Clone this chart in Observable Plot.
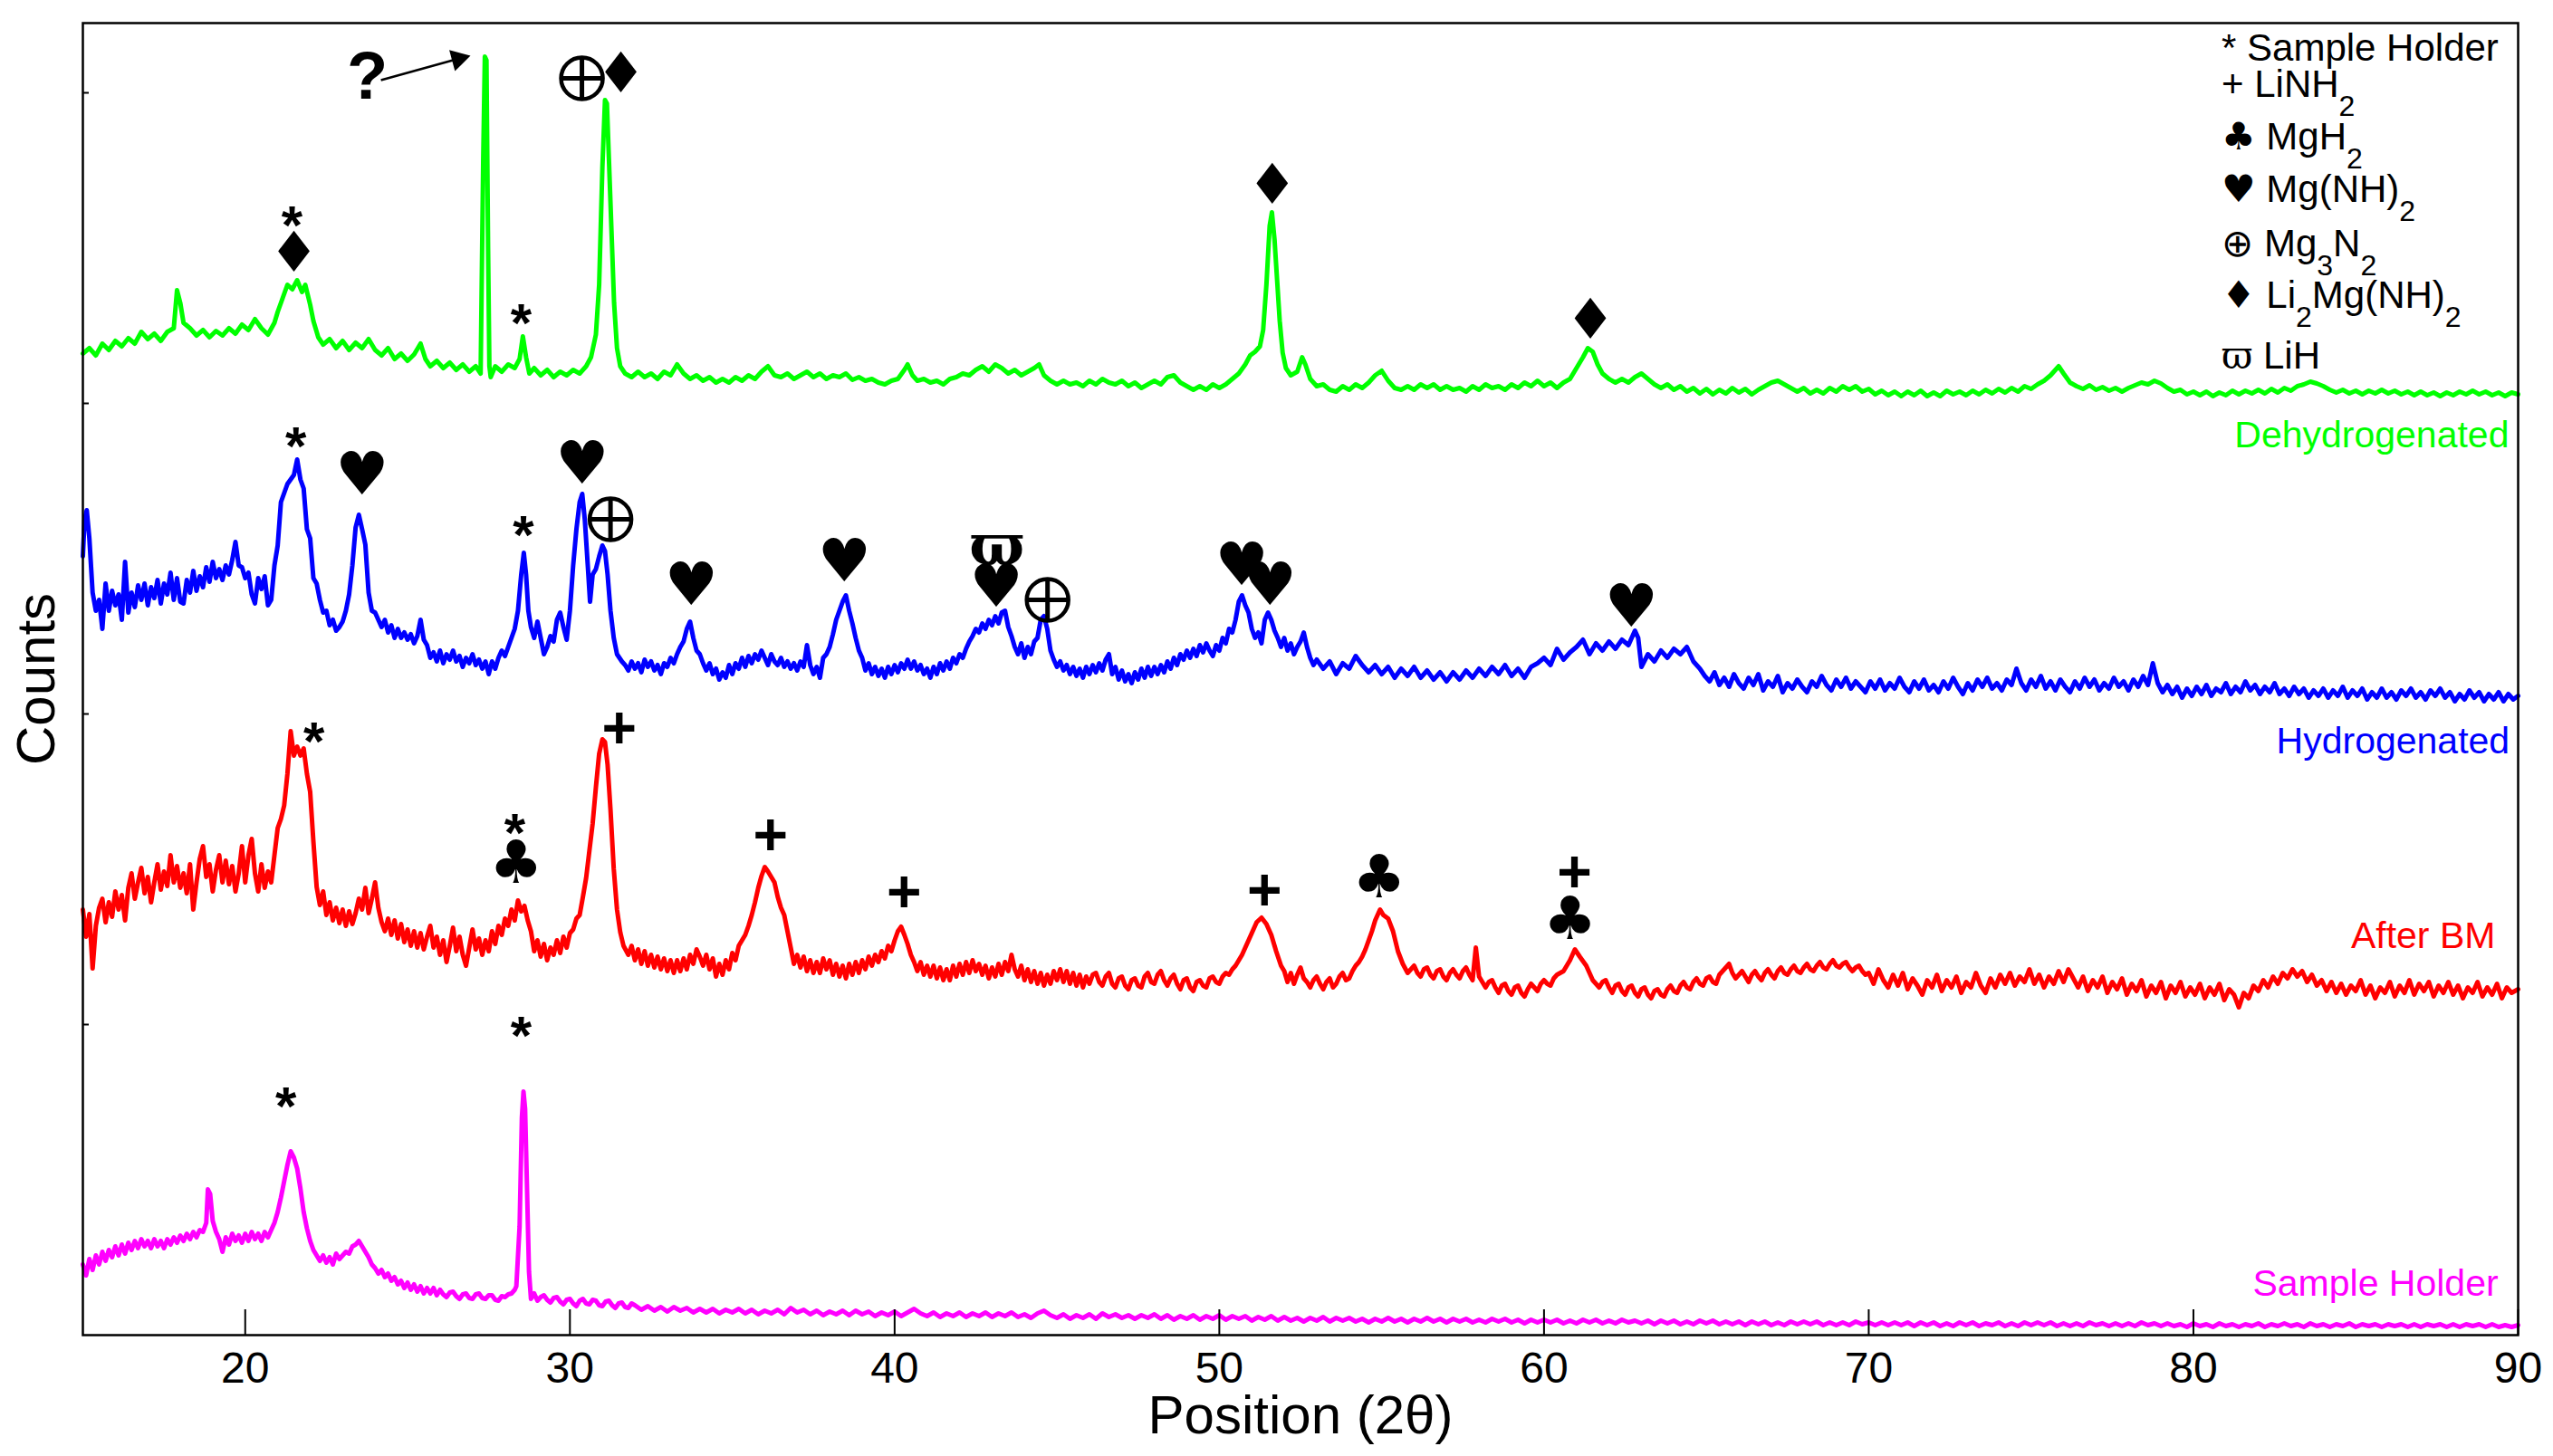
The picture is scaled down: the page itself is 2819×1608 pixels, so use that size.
<!DOCTYPE html>
<html><head><meta charset="utf-8">
<script src="https://cdn.jsdelivr.net/npm/d3@7"></script>
<script src="https://cdn.jsdelivr.net/npm/@observablehq/plot@0.6"></script>
<style>html,body{margin:0;padding:0;background:#fff}svg{display:block}</style>
</head><body><div id="chart"></div>
<script>
// ---- data: [2θ (deg), counts (a.u., stacked)] ----
const dehydrogenated = [[15.0,1084],[15.2,1090],[15.4,1082],[15.6,1095],[15.8,1088],[16.0,1098],[16.2,1092],[16.4,1101],[16.6,1095],[16.8,1108],[17.0,1100],[17.2,1106],[17.4,1098],[17.6,1108],[17.8,1112],[17.9,1154],[18.0,1140],[18.1,1118],[18.3,1112],[18.5,1104],[18.7,1110],[18.9,1102],[19.1,1109],[19.3,1104],[19.5,1112],[19.7,1106],[19.9,1116],[20.1,1110],[20.3,1122],[20.5,1112],[20.7,1105],[20.9,1118],[21.0,1130],[21.15,1145],[21.3,1160],[21.45,1155],[21.6,1165],[21.75,1152],[21.85,1160],[22.0,1138],[22.1,1120],[22.25,1102],[22.4,1094],[22.6,1100],[22.8,1090],[23.0,1098],[23.2,1088],[23.4,1096],[23.6,1090],[23.8,1100],[24.0,1088],[24.2,1082],[24.4,1090],[24.6,1078],[24.8,1084],[25.0,1076],[25.2,1083],[25.4,1095],[25.55,1078],[25.7,1070],[25.9,1076],[26.1,1068],[26.3,1074],[26.5,1066],[26.7,1072],[26.9,1064],[27.1,1070],[27.25,1062],[27.33,1300],[27.38,1412],[27.43,1408],[27.48,1200],[27.52,1070],[27.56,1058],[27.7,1070],[27.9,1064],[28.1,1072],[28.3,1068],[28.45,1078],[28.55,1103],[28.65,1080],[28.75,1062],[28.9,1068],[29.1,1060],[29.3,1066],[29.5,1058],[29.7,1064],[29.9,1060],[30.1,1066],[30.3,1062],[30.5,1070],[30.65,1080],[30.8,1105],[30.9,1160],[31.0,1290],[31.08,1364],[31.14,1360],[31.2,1300],[31.28,1220],[31.36,1140],[31.45,1090],[31.55,1070],[31.7,1062],[31.9,1058],[32.1,1064],[32.3,1058],[32.5,1062],[32.7,1056],[32.9,1064],[33.1,1060],[33.3,1072],[33.5,1062],[33.7,1056],[33.9,1060],[34.1,1054],[34.3,1058],[34.5,1052],[34.7,1056],[34.9,1052],[35.1,1058],[35.3,1054],[35.5,1060],[35.7,1056],[35.9,1064],[36.1,1070],[36.3,1060],[36.5,1058],[36.7,1062],[36.9,1056],[37.1,1060],[37.3,1064],[37.5,1058],[37.7,1062],[37.9,1056],[38.1,1060],[38.3,1058],[38.5,1062],[38.7,1055],[38.9,1058],[39.1,1054],[39.3,1056],[39.5,1052],[39.7,1050],[39.9,1054],[40.1,1056],[40.3,1066],[40.4,1072],[40.55,1060],[40.7,1054],[40.9,1056],[41.1,1052],[41.3,1054],[41.5,1050],[41.7,1056],[41.9,1058],[42.1,1062],[42.3,1060],[42.5,1066],[42.7,1070],[42.9,1064],[43.1,1072],[43.3,1068],[43.5,1062],[43.7,1066],[43.9,1060],[44.1,1064],[44.3,1068],[44.45,1072],[44.6,1060],[44.8,1054],[45.0,1050],[45.2,1054],[45.4,1050],[45.6,1052],[45.8,1048],[46.0,1054],[46.2,1050],[46.4,1056],[46.6,1052],[46.8,1050],[47.0,1054],[47.2,1048],[47.4,1052],[47.6,1046],[47.8,1050],[48.0,1054],[48.2,1050],[48.4,1058],[48.6,1060],[48.8,1052],[49.0,1048],[49.2,1044],[49.4,1048],[49.6,1044],[49.8,1050],[50.0,1046],[50.2,1050],[50.4,1056],[50.6,1062],[50.8,1072],[50.95,1082],[51.1,1086],[51.25,1092],[51.35,1110],[51.45,1160],[51.55,1225],[51.62,1240],[51.7,1210],[51.78,1165],[51.86,1120],[51.95,1085],[52.05,1068],[52.2,1060],[52.4,1064],[52.55,1080],[52.65,1072],[52.8,1056],[53.0,1048],[53.2,1050],[53.4,1044],[53.6,1042],[53.8,1048],[54.0,1044],[54.2,1050],[54.4,1046],[54.6,1052],[54.8,1060],[55.0,1065],[55.2,1054],[55.4,1046],[55.6,1044],[55.8,1048],[56.0,1044],[56.2,1050],[56.4,1046],[56.6,1050],[56.8,1044],[57.0,1048],[57.2,1044],[57.4,1046],[57.6,1042],[57.8,1048],[58.0,1044],[58.2,1050],[58.4,1046],[58.6,1048],[58.8,1044],[59.0,1050],[59.2,1046],[59.4,1052],[59.6,1048],[59.8,1054],[60.0,1048],[60.2,1052],[60.4,1046],[60.6,1052],[60.8,1056],[61.0,1068],[61.2,1080],[61.35,1090],[61.5,1086],[61.65,1072],[61.8,1062],[62.0,1056],[62.2,1052],[62.4,1056],[62.6,1052],[62.8,1058],[63.0,1062],[63.2,1056],[63.4,1050],[63.6,1046],[63.8,1050],[64.0,1044],[64.2,1048],[64.4,1042],[64.6,1046],[64.8,1040],[65.0,1045],[65.2,1039],[65.4,1044],[65.6,1040],[65.8,1046],[66.0,1041],[66.2,1045],[66.4,1039],[66.6,1044],[66.8,1048],[67.0,1052],[67.2,1054],[67.4,1050],[67.6,1046],[67.8,1042],[68.0,1046],[68.2,1040],[68.4,1044],[68.6,1040],[68.8,1046],[69.0,1042],[69.2,1048],[69.4,1044],[69.6,1048],[69.8,1042],[70.0,1045],[70.2,1039],[70.4,1043],[70.6,1038],[70.8,1042],[71.0,1037],[71.2,1042],[71.4,1038],[71.6,1043],[71.8,1037],[72.0,1041],[72.2,1037],[72.4,1043],[72.6,1039],[72.8,1042],[73.0,1038],[73.2,1043],[73.4,1039],[73.6,1044],[73.8,1040],[74.0,1045],[74.2,1041],[74.4,1046],[74.6,1042],[74.8,1048],[75.0,1045],[75.2,1050],[75.4,1054],[75.6,1060],[75.75,1066],[75.85,1070],[76.0,1062],[76.2,1052],[76.4,1048],[76.6,1045],[76.8,1049],[77.0,1044],[77.2,1047],[77.4,1043],[77.6,1046],[77.8,1042],[78.0,1046],[78.2,1049],[78.4,1052],[78.6,1050],[78.8,1054],[79.0,1051],[79.2,1046],[79.4,1042],[79.6,1044],[79.8,1039],[80.0,1042],[80.2,1038],[80.4,1042],[80.6,1037],[80.8,1041],[81.0,1038],[81.2,1043],[81.4,1039],[81.6,1043],[81.8,1040],[82.0,1044],[82.2,1040],[82.4,1045],[82.6,1041],[82.8,1046],[83.0,1043],[83.2,1048],[83.4,1050],[83.6,1053],[83.8,1051],[84.0,1048],[84.2,1044],[84.4,1041],[84.6,1044],[84.8,1040],[85.0,1043],[85.2,1039],[85.4,1043],[85.6,1040],[85.8,1044],[86.0,1040],[86.2,1043],[86.4,1039],[86.6,1042],[86.8,1038],[87.0,1042],[87.2,1038],[87.4,1041],[87.6,1037],[87.8,1041],[88.0,1038],[88.2,1042],[88.4,1039],[88.6,1043],[88.8,1039],[89.0,1042],[89.2,1038],[89.4,1041],[89.6,1037],[89.8,1041],[90.0,1039]];

const hydrogenated = [[15.0,860],[15.05,900],[15.12,911],[15.2,880],[15.3,820],[15.4,800],[15.5,812],[15.6,780],[15.7,830],[15.8,800],[15.9,822],[16.0,806],[16.1,818],[16.2,790],[16.3,854],[16.4,798],[16.5,820],[16.6,804],[16.7,828],[16.8,812],[16.9,830],[17.0,806],[17.1,826],[17.2,814],[17.3,834],[17.4,808],[17.5,830],[17.6,818],[17.7,842],[17.8,812],[17.9,836],[18.0,810],[18.1,808],[18.2,834],[18.3,820],[18.4,844],[18.5,822],[18.6,838],[18.7,826],[18.8,848],[18.9,832],[19.0,854],[19.1,836],[19.2,846],[19.3,834],[19.4,850],[19.5,840],[19.6,856],[19.7,876],[19.8,850],[19.9,848],[20.0,836],[20.1,842],[20.2,818],[20.3,808],[20.4,836],[20.5,824],[20.6,838],[20.7,806],[20.8,812],[20.9,850],[21.0,872],[21.1,920],[21.2,930],[21.3,940],[21.4,945],[21.5,950],[21.6,967],[21.7,945],[21.8,935],[21.9,890],[22.0,880],[22.1,836],[22.2,830],[22.3,812],[22.4,798],[22.5,800],[22.6,784],[22.7,790],[22.8,778],[22.9,782],[23.0,788],[23.1,800],[23.2,818],[23.3,850],[23.4,892],[23.5,906],[23.6,890],[23.7,873],[23.8,820],[23.9,800],[24.0,798],[24.1,790],[24.2,782],[24.3,790],[24.4,776],[24.5,784],[24.6,770],[24.7,780],[24.8,770],[24.9,776],[25.0,768],[25.1,774],[25.2,764],[25.3,772],[25.4,790],[25.5,768],[25.6,762],[25.7,748],[25.8,754],[25.9,744],[26.0,756],[26.1,742],[26.2,752],[26.3,746],[26.4,756],[26.5,744],[26.6,750],[26.7,738],[26.8,748],[26.9,742],[27.0,752],[27.1,740],[27.2,746],[27.3,736],[27.4,744],[27.5,730],[27.6,744],[27.7,736],[27.8,748],[27.9,756],[28.0,750],[28.1,760],[28.2,770],[28.3,780],[28.4,800],[28.5,840],[28.58,864],[28.65,840],[28.72,800],[28.8,782],[28.9,770],[29.0,788],[29.1,770],[29.2,752],[29.3,760],[29.4,772],[29.5,766],[29.6,790],[29.7,798],[29.8,782],[29.9,768],[30.0,800],[30.1,850],[30.2,890],[30.3,920],[30.38,929],[30.46,900],[30.55,850],[30.62,810],[30.7,840],[30.8,846],[30.9,860],[31.0,872],[31.08,866],[31.16,840],[31.25,800],[31.35,770],[31.45,752],[31.6,744],[31.7,740],[31.8,734],[31.9,744],[32.0,736],[32.1,742],[32.2,732],[32.3,746],[32.4,738],[32.5,744],[32.6,734],[32.7,740],[32.8,730],[32.9,742],[33.0,738],[33.1,748],[33.2,742],[33.3,752],[33.4,760],[33.5,766],[33.6,780],[33.7,788],[33.8,770],[33.9,756],[34.0,752],[34.1,742],[34.2,734],[34.3,742],[34.4,730],[34.5,736],[34.6,724],[34.7,732],[34.8,726],[34.9,740],[35.0,730],[35.1,742],[35.2,736],[35.3,748],[35.4,738],[35.5,750],[35.6,742],[35.7,752],[35.8,746],[35.9,756],[36.0,748],[36.1,740],[36.2,752],[36.3,744],[36.4,740],[36.5,748],[36.6,738],[36.7,744],[36.8,736],[36.9,742],[37.0,734],[37.1,744],[37.2,738],[37.3,762],[37.4,740],[37.5,730],[37.6,738],[37.7,726],[37.8,748],[37.9,752],[38.0,760],[38.1,774],[38.2,790],[38.3,800],[38.4,810],[38.5,817],[38.6,800],[38.7,786],[38.8,770],[38.9,756],[39.0,748],[39.1,734],[39.2,742],[39.3,730],[39.4,738],[39.5,728],[39.6,736],[39.7,726],[39.8,738],[39.9,730],[40.0,740],[40.1,732],[40.2,742],[40.3,736],[40.4,746],[40.5,736],[40.6,744],[40.7,734],[40.8,740],[40.9,730],[41.0,736],[41.1,726],[41.2,738],[41.3,730],[41.4,742],[41.5,734],[41.6,744],[41.7,736],[41.8,748],[41.9,742],[42.0,752],[42.1,748],[42.2,758],[42.3,766],[42.4,772],[42.5,780],[42.6,776],[42.7,786],[42.8,780],[42.9,790],[43.0,784],[43.1,794],[43.2,786],[43.3,798],[43.4,800],[43.5,782],[43.6,772],[43.7,760],[43.8,752],[43.9,764],[44.0,748],[44.1,760],[44.2,752],[44.3,766],[44.4,770],[44.5,790],[44.6,794],[44.7,780],[44.8,756],[44.9,746],[45.0,738],[45.1,744],[45.2,734],[45.3,740],[45.4,730],[45.5,738],[45.6,728],[45.7,736],[45.8,726],[45.9,738],[46.0,730],[46.1,740],[46.2,732],[46.3,742],[46.4,734],[46.5,746],[46.6,752],[46.7,730],[46.8,738],[46.9,724],[47.0,734],[47.1,722],[47.2,730],[47.3,720],[47.4,732],[47.5,724],[47.6,736],[47.7,726],[47.8,738],[47.9,728],[48.0,738],[48.1,730],[48.2,740],[48.3,732],[48.4,744],[48.5,736],[48.6,748],[48.7,740],[48.8,752],[48.9,746],[49.0,756],[49.1,748],[49.2,758],[49.3,750],[49.4,762],[49.5,754],[49.6,764],[49.7,756],[49.8,750],[49.9,762],[50.0,756],[50.1,770],[50.2,764],[50.3,780],[50.4,776],[50.5,790],[50.6,810],[50.7,817],[50.8,806],[50.9,798],[51.0,780],[51.1,770],[51.2,776],[51.3,764],[51.4,790],[51.5,798],[51.6,790],[51.7,778],[51.8,770],[51.9,760],[52.0,770],[52.1,756],[52.2,764],[52.3,752],[52.4,760],[52.5,766],[52.6,776],[52.7,760],[52.8,748],[52.9,740],[53.0,746],[53.2,736],[53.4,744],[53.6,730],[53.8,742],[54.0,736],[54.2,750],[54.4,740],[54.6,732],[54.8,740],[55.0,730],[55.2,738],[55.4,726],[55.6,736],[55.8,728],[56.0,738],[56.2,726],[56.4,734],[56.6,724],[56.8,732],[57.0,722],[57.2,732],[57.4,724],[57.6,734],[57.8,726],[58.0,736],[58.2,728],[58.4,738],[58.6,730],[58.8,740],[59.0,728],[59.2,736],[59.4,726],[59.6,738],[59.8,742],[60.0,748],[60.2,740],[60.4,758],[60.6,746],[60.8,754],[61.0,760],[61.2,768],[61.4,752],[61.6,764],[61.8,756],[62.0,766],[62.2,758],[62.4,768],[62.6,762],[62.8,778],[62.9,770],[63.0,738],[63.2,752],[63.4,744],[63.6,756],[63.8,748],[64.0,758],[64.2,752],[64.4,760],[64.6,744],[64.8,736],[64.95,728],[65.1,722],[65.25,732],[65.4,718],[65.55,726],[65.7,716],[65.85,730],[66.0,720],[66.15,714],[66.3,726],[66.45,718],[66.6,730],[66.75,712],[66.9,722],[67.05,716],[67.2,728],[67.35,710],[67.5,720],[67.65,714],[67.8,724],[67.95,716],[68.1,710],[68.25,722],[68.4,716],[68.55,728],[68.7,718],[68.85,712],[69.0,724],[69.15,716],[69.3,726],[69.45,714],[69.6,722],[69.75,716],[69.9,710],[70.05,722],[70.2,714],[70.35,724],[70.5,712],[70.65,720],[70.8,714],[70.95,726],[71.1,716],[71.25,710],[71.4,722],[71.55,714],[71.7,724],[71.85,712],[72.0,718],[72.15,710],[72.3,722],[72.45,714],[72.6,726],[72.75,716],[72.9,708],[73.05,720],[73.2,712],[73.35,724],[73.5,716],[73.65,726],[73.8,714],[73.95,720],[74.1,712],[74.25,724],[74.4,718],[74.55,736],[74.7,720],[74.85,712],[75.0,724],[75.15,716],[75.3,728],[75.45,714],[75.6,722],[75.75,712],[75.9,724],[76.05,716],[76.2,710],[76.35,722],[76.5,714],[76.65,726],[76.8,716],[76.95,724],[77.1,712],[77.25,720],[77.4,714],[77.55,726],[77.7,716],[77.85,722],[78.0,712],[78.15,724],[78.3,716],[78.45,728],[78.6,718],[78.75,742],[78.9,720],[79.05,710],[79.2,718],[79.35,708],[79.5,716],[79.65,704],[79.8,714],[79.95,706],[80.1,716],[80.25,708],[80.4,718],[80.55,706],[80.7,714],[80.85,710],[81.0,720],[81.15,708],[81.3,716],[81.45,710],[81.6,722],[81.75,712],[81.9,718],[82.05,708],[82.2,716],[82.35,710],[82.5,720],[82.65,708],[82.8,714],[82.95,706],[83.1,716],[83.25,708],[83.4,714],[83.55,704],[83.7,712],[83.85,706],[84.0,714],[84.15,704],[84.3,712],[84.45,706],[84.6,716],[84.75,704],[84.9,712],[85.05,706],[85.2,714],[85.35,702],[85.5,710],[85.65,704],[85.8,714],[85.95,704],[86.1,710],[86.25,702],[86.4,712],[86.55,706],[86.7,714],[86.85,704],[87.0,710],[87.15,702],[87.3,712],[87.45,706],[87.6,714],[87.75,704],[87.9,710],[88.05,700],[88.2,708],[88.35,702],[88.5,712],[88.65,704],[88.8,710],[88.95,700],[89.1,708],[89.25,702],[89.4,710],[89.55,700],[89.7,708],[89.85,702],[90.0,706]];

const afterBM = [[15.0,470],[15.1,440],[15.2,465],[15.3,405],[15.4,452],[15.5,472],[15.6,482],[15.7,456],[15.8,478],[15.9,462],[16.0,490],[16.1,470],[16.2,486],[16.3,458],[16.4,494],[16.5,510],[16.6,482],[16.7,500],[16.8,516],[16.9,488],[17.0,506],[17.1,478],[17.2,500],[17.3,520],[17.4,492],[17.5,512],[17.6,496],[17.7,530],[17.8,500],[17.9,518],[18.0,494],[18.1,510],[18.2,488],[18.3,520],[18.4,470],[18.5,500],[18.6,526],[18.7,540],[18.8,506],[18.9,520],[19.0,490],[19.1,514],[19.2,530],[19.3,500],[19.4,524],[19.5,498],[19.6,518],[19.7,490],[19.8,510],[19.9,540],[20.0,500],[20.1,530],[20.2,548],[20.3,510],[20.4,490],[20.5,520],[20.6,494],[20.7,512],[20.8,500],[20.9,530],[21.0,560],[21.1,570],[21.2,585],[21.3,620],[21.4,667],[21.5,640],[21.6,650],[21.7,640],[21.8,648],[21.9,620],[22.0,600],[22.1,545],[22.2,495],[22.3,475],[22.4,490],[22.5,464],[22.6,478],[22.7,458],[22.8,472],[22.9,455],[23.0,470],[23.1,452],[23.2,468],[23.3,454],[23.4,466],[23.5,482],[23.6,470],[23.7,494],[23.8,466],[23.9,482],[24.0,500],[24.1,472],[24.2,456],[24.3,446],[24.4,460],[24.5,442],[24.6,458],[24.7,438],[24.8,454],[24.9,434],[25.0,448],[25.1,430],[25.2,446],[25.3,428],[25.4,444],[25.5,426],[25.6,440],[25.7,452],[25.8,428],[25.9,440],[26.0,420],[26.1,436],[26.2,412],[26.3,430],[26.4,450],[26.5,424],[26.6,440],[26.7,420],[26.8,408],[26.9,428],[27.0,448],[27.1,426],[27.2,438],[27.3,420],[27.4,436],[27.5,424],[27.6,446],[27.7,432],[27.8,452],[27.9,442],[28.0,460],[28.1,452],[28.2,470],[28.3,458],[28.4,480],[28.5,468],[28.6,474],[28.7,458],[28.8,446],[28.9,424],[29.0,436],[29.1,418],[29.2,432],[29.3,414],[29.4,428],[29.5,420],[29.6,436],[29.7,422],[29.8,440],[29.9,428],[30.0,444],[30.1,448],[30.2,460],[30.3,464],[30.4,484],[30.5,505],[30.6,535],[30.7,565],[30.8,605],[30.9,642],[31.0,658],[31.08,655],[31.16,630],[31.25,580],[31.35,515],[31.45,470],[31.55,445],[31.65,430],[31.8,420],[31.9,430],[32.0,414],[32.1,426],[32.2,410],[32.3,424],[32.4,408],[32.5,420],[32.6,406],[32.7,418],[32.8,404],[32.9,416],[33.0,402],[33.1,414],[33.2,400],[33.3,414],[33.4,402],[33.5,416],[33.6,404],[33.7,420],[33.8,410],[33.9,426],[34.0,418],[34.1,408],[34.2,420],[34.3,404],[34.4,416],[34.5,396],[34.6,410],[34.7,398],[34.8,414],[34.9,404],[35.0,422],[35.1,414],[35.2,430],[35.3,436],[35.4,442],[35.5,452],[35.6,464],[35.7,478],[35.8,494],[35.9,507],[36.0,517],[36.1,512],[36.2,506],[36.3,500],[36.4,484],[36.5,472],[36.6,464],[36.7,446],[36.8,428],[36.9,410],[37.0,420],[37.1,406],[37.2,418],[37.3,402],[37.4,414],[37.5,400],[37.6,412],[37.7,400],[37.8,416],[37.9,404],[38.0,414],[38.1,398],[38.2,410],[38.3,396],[38.4,408],[38.5,394],[38.6,410],[38.7,398],[38.8,412],[38.9,400],[39.0,414],[39.1,404],[39.2,418],[39.3,408],[39.4,420],[39.5,412],[39.6,424],[39.7,416],[39.8,430],[39.9,424],[40.0,436],[40.1,446],[40.2,451],[40.3,442],[40.4,432],[40.5,420],[40.6,412],[40.7,402],[40.8,412],[40.9,398],[41.0,408],[41.1,396],[41.2,408],[41.3,394],[41.4,406],[41.5,392],[41.6,404],[41.7,392],[41.8,408],[41.9,396],[42.0,410],[42.1,398],[42.2,412],[42.3,400],[42.4,414],[42.5,402],[42.6,410],[42.7,398],[42.8,408],[42.9,394],[43.0,406],[43.1,396],[43.2,410],[43.3,398],[43.4,412],[43.5,402],[43.6,420],[43.7,404],[43.8,396],[43.9,408],[44.0,392],[44.1,404],[44.2,390],[44.3,402],[44.4,388],[44.5,400],[44.6,386],[44.7,398],[44.8,388],[44.9,402],[45.0,392],[45.1,404],[45.2,390],[45.3,402],[45.4,388],[45.5,400],[45.6,386],[45.7,398],[45.8,384],[45.9,396],[46.0,388],[46.1,398],[46.2,400],[46.3,390],[46.4,386],[46.5,396],[46.6,400],[46.7,388],[46.8,384],[46.9,394],[47.0,396],[47.1,386],[47.2,382],[47.3,392],[47.4,394],[47.5,386],[47.6,384],[47.7,396],[47.8,400],[47.9,390],[48.0,388],[48.1,398],[48.2,402],[48.3,392],[48.4,386],[48.5,394],[48.6,398],[48.7,388],[48.8,382],[48.9,392],[49.0,394],[49.1,384],[49.2,380],[49.3,390],[49.4,392],[49.5,386],[49.6,384],[49.7,394],[49.8,396],[49.9,390],[50.0,388],[50.1,396],[50.2,400],[50.3,398],[50.4,404],[50.5,408],[50.6,414],[50.7,420],[50.8,428],[50.9,436],[51.0,444],[51.15,456],[51.3,461],[51.45,454],[51.6,442],[51.75,424],[51.9,408],[52.0,402],[52.1,390],[52.2,400],[52.3,388],[52.4,398],[52.5,406],[52.6,394],[52.7,390],[52.8,384],[52.9,392],[53.0,396],[53.1,388],[53.2,382],[53.3,390],[53.4,394],[53.5,384],[53.6,388],[53.7,396],[53.8,400],[53.9,392],[54.0,394],[54.1,402],[54.2,408],[54.3,412],[54.4,418],[54.5,426],[54.6,436],[54.7,446],[54.8,458],[54.95,470],[55.05,464],[55.2,460],[55.35,446],[55.5,424],[55.65,410],[55.8,400],[55.9,404],[56.0,408],[56.1,400],[56.2,396],[56.3,404],[56.4,406],[56.5,398],[56.6,394],[56.7,402],[56.8,404],[56.9,396],[57.0,392],[57.1,400],[57.2,404],[57.3,398],[57.4,394],[57.5,402],[57.6,406],[57.7,398],[57.8,392],[57.9,428],[58.0,396],[58.1,390],[58.2,384],[58.3,390],[58.4,392],[58.5,384],[58.6,378],[58.7,386],[58.8,388],[58.9,380],[59.0,376],[59.1,384],[59.2,386],[59.3,378],[59.4,374],[59.5,382],[59.6,388],[59.7,384],[59.8,380],[59.9,388],[60.0,392],[60.1,388],[60.2,386],[60.3,394],[60.4,398],[60.5,400],[60.6,402],[60.7,408],[60.8,414],[60.95,426],[61.1,418],[61.3,408],[61.5,392],[61.6,388],[61.7,384],[61.8,390],[61.9,392],[62.0,384],[62.1,378],[62.2,386],[62.3,388],[62.4,380],[62.5,376],[62.6,384],[62.7,386],[62.8,378],[62.9,374],[63.0,382],[63.1,384],[63.2,376],[63.3,372],[63.4,380],[63.5,382],[63.6,376],[63.7,374],[63.8,382],[63.9,386],[64.0,380],[64.1,378],[64.2,386],[64.3,390],[64.4,384],[64.5,382],[64.6,390],[64.7,394],[64.8,388],[64.9,386],[65.0,394],[65.1,396],[65.2,390],[65.3,388],[65.4,398],[65.5,402],[65.6,406],[65.7,410],[65.8,400],[65.9,394],[66.0,398],[66.1,402],[66.2,396],[66.3,390],[66.4,398],[66.5,402],[66.6,396],[66.7,392],[66.8,400],[66.9,404],[67.0,398],[67.1,394],[67.2,402],[67.3,406],[67.4,400],[67.5,398],[67.6,404],[67.7,408],[67.8,402],[67.9,400],[68.0,406],[68.1,410],[68.2,404],[68.3,402],[68.4,408],[68.5,412],[68.6,406],[68.7,404],[68.8,410],[68.9,414],[69.0,408],[69.1,406],[69.2,410],[69.3,412],[69.4,406],[69.5,402],[69.6,406],[69.7,408],[69.8,402],[69.9,398],[70.0,400],[70.15,388],[70.3,404],[70.45,392],[70.6,384],[70.75,398],[70.9,386],[71.05,400],[71.2,382],[71.35,394],[71.5,386],[71.65,376],[71.8,392],[71.95,384],[72.1,398],[72.25,380],[72.4,392],[72.55,384],[72.7,396],[72.85,378],[73.0,390],[73.15,384],[73.3,400],[73.45,386],[73.6,378],[73.75,394],[73.9,384],[74.05,398],[74.2,388],[74.35,400],[74.5,386],[74.65,396],[74.8,390],[74.95,404],[75.1,388],[75.25,398],[75.4,384],[75.55,396],[75.7,388],[75.85,402],[76.0,390],[76.15,404],[76.3,394],[76.45,384],[76.6,396],[76.75,380],[76.9,392],[77.05,384],[77.2,396],[77.35,378],[77.5,390],[77.65,382],[77.8,394],[77.95,376],[78.1,388],[78.25,380],[78.4,392],[78.55,374],[78.7,386],[78.85,378],[79.0,390],[79.15,372],[79.3,386],[79.45,378],[79.6,390],[79.75,374],[79.9,384],[80.05,376],[80.2,388],[80.35,372],[80.5,384],[80.65,376],[80.8,388],[80.95,370],[81.1,382],[81.25,376],[81.4,362],[81.55,378],[81.7,372],[81.85,386],[82.0,380],[82.15,392],[82.3,384],[82.45,396],[82.6,388],[82.75,400],[82.9,394],[83.05,404],[83.2,396],[83.35,402],[83.5,390],[83.65,398],[83.8,386],[83.95,392],[84.1,380],[84.25,390],[84.4,378],[84.55,388],[84.7,376],[84.85,386],[85.0,380],[85.15,392],[85.3,376],[85.45,386],[85.6,372],[85.75,384],[85.9,378],[86.05,390],[86.2,374],[86.35,386],[86.5,378],[86.65,392],[86.8,376],[86.95,388],[87.1,380],[87.25,390],[87.4,374],[87.55,386],[87.7,378],[87.85,390],[88.0,376],[88.15,386],[88.3,372],[88.45,384],[88.6,378],[88.75,390],[88.9,374],[89.05,384],[89.2,376],[89.35,388],[89.5,372],[89.65,384],[89.8,378],[90.0,382]];

const sampleHolder = [[15.0,78],[15.1,66],[15.2,84],[15.3,72],[15.4,88],[15.5,78],[15.6,92],[15.7,82],[15.8,94],[15.9,86],[16.0,98],[16.1,88],[16.2,100],[16.3,90],[16.4,102],[16.5,94],[16.6,104],[16.7,96],[16.8,106],[16.9,98],[17.0,104],[17.1,96],[17.2,106],[17.3,98],[17.4,104],[17.5,96],[17.6,106],[17.7,100],[17.8,108],[17.9,102],[18.0,110],[18.1,104],[18.2,112],[18.3,106],[18.4,114],[18.5,108],[18.6,116],[18.7,114],[18.8,124],[18.85,161],[18.92,156],[19.0,126],[19.1,114],[19.2,106],[19.3,92],[19.4,108],[19.5,100],[19.6,112],[19.7,104],[19.8,110],[19.9,102],[20.0,112],[20.1,104],[20.2,114],[20.3,106],[20.4,112],[20.5,104],[20.6,114],[20.7,108],[20.8,116],[20.9,124],[21.0,136],[21.1,152],[21.2,170],[21.3,188],[21.4,203],[21.5,196],[21.6,184],[21.7,162],[21.8,136],[21.9,118],[22.0,104],[22.1,94],[22.2,88],[22.3,82],[22.4,88],[22.5,80],[22.6,86],[22.7,78],[22.8,90],[22.9,84],[23.0,88],[23.1,92],[23.2,90],[23.3,98],[23.4,100],[23.5,104],[23.6,98],[23.7,92],[23.8,86],[23.9,78],[24.0,74],[24.1,68],[24.2,72],[24.3,64],[24.4,68],[24.5,60],[24.6,64],[24.7,56],[24.8,60],[24.9,52],[25.0,58],[25.1,50],[25.2,56],[25.3,48],[25.4,54],[25.5,46],[25.6,52],[25.7,46],[25.8,52],[25.9,44],[26.0,50],[26.1,45],[26.2,42],[26.3,47],[26.4,48],[26.5,43],[26.6,40],[26.7,45],[26.8,46],[26.9,41],[27.0,40],[27.1,45],[27.2,46],[27.3,41],[27.4,40],[27.5,44],[27.6,44],[27.7,39],[27.8,38],[27.9,43],[28.0,42],[28.1,45],[28.2,46],[28.3,50],[28.35,54],[28.45,120],[28.52,240],[28.57,269],[28.62,250],[28.68,160],[28.74,70],[28.8,40],[28.9,46],[29.0,38],[29.1,42],[29.2,44],[29.3,39],[29.4,36],[29.5,41],[29.6,42],[29.7,37],[29.8,34],[29.9,39],[30.0,40],[30.1,35],[30.2,32],[30.3,38],[30.4,40],[30.5,35],[30.6,34],[30.7,39],[30.8,38],[30.9,33],[31.0,32],[31.1,37],[31.2,38],[31.3,33],[31.4,30],[31.5,35],[31.6,36],[31.7,31],[31.8,30],[31.9,35],[32.0,33],[32.2,28],[32.4,32],[32.6,27],[32.8,31],[33.0,26],[33.2,31],[33.4,27],[33.6,30],[33.8,25],[34.0,29],[34.2,25],[34.4,29],[34.6,24],[34.8,28],[35.0,25],[35.2,29],[35.4,24],[35.6,28],[35.8,23],[36.0,27],[36.2,24],[36.4,28],[36.6,23],[36.8,30],[37.0,25],[37.2,28],[37.4,23],[37.6,27],[37.8,22],[38.0,26],[38.2,23],[38.4,27],[38.6,22],[38.8,27],[39.0,23],[39.2,26],[39.4,21],[39.6,25],[39.8,22],[40.0,26],[40.2,21],[40.4,25],[40.6,29],[40.8,24],[41.0,21],[41.2,25],[41.4,20],[41.6,24],[41.8,21],[42.0,25],[42.2,20],[42.4,24],[42.6,21],[42.8,25],[43.0,20],[43.2,24],[43.4,21],[43.6,25],[43.8,20],[44.0,23],[44.2,19],[44.4,24],[44.6,27],[44.8,22],[45.0,19],[45.2,23],[45.4,18],[45.6,22],[45.8,19],[46.0,23],[46.2,18],[46.4,24],[46.6,20],[46.8,23],[47.0,19],[47.2,22],[47.4,18],[47.6,22],[47.8,19],[48.0,23],[48.2,18],[48.4,22],[48.6,17],[48.8,21],[49.0,18],[49.2,22],[49.4,17],[49.6,21],[49.8,18],[50.0,22],[50.2,17],[50.4,21],[50.6,18],[50.8,21],[51.0,16],[51.2,20],[51.4,17],[51.6,21],[51.8,16],[52.0,20],[52.2,16],[52.4,19],[52.6,15],[52.8,19],[53.0,16],[53.2,20],[53.4,15],[53.6,19],[53.8,16],[54.0,19],[54.2,15],[54.4,18],[54.6,14],[54.8,18],[55.0,15],[55.2,19],[55.4,15],[55.6,18],[55.8,14],[56.0,18],[56.2,15],[56.4,19],[56.6,15],[56.8,18],[57.0,14],[57.2,18],[57.4,15],[57.6,18],[57.8,14],[58.0,17],[58.2,14],[58.4,18],[58.6,15],[58.8,18],[59.0,14],[59.2,17],[59.4,13],[59.6,17],[59.8,14],[60.0,17],[60.2,14],[60.4,17],[60.6,13],[60.8,16],[61.0,13],[61.2,17],[61.4,14],[61.6,17],[61.8,13],[62.0,16],[62.2,13],[62.4,17],[62.6,14],[62.8,16],[63.0,13],[63.2,16],[63.4,12],[63.6,16],[63.8,13],[64.0,16],[64.2,12],[64.4,15],[64.6,12],[64.8,16],[65.0,13],[65.2,16],[65.4,12],[65.6,15],[65.8,12],[66.0,15],[66.2,11],[66.4,15],[66.6,12],[66.8,15],[67.0,11],[67.2,14],[67.4,11],[67.6,15],[67.8,12],[68.0,15],[68.2,12],[68.4,15],[68.6,11],[68.8,14],[69.0,11],[69.2,14],[69.4,11],[69.6,15],[69.8,12],[70.0,14],[70.2,11],[70.4,14],[70.6,11],[70.8,14],[71.0,11],[71.2,14],[71.4,10],[71.6,14],[71.8,11],[72.0,14],[72.2,10],[72.4,13],[72.6,10],[72.8,14],[73.0,11],[73.2,14],[73.4,10],[73.6,13],[73.8,11],[74.0,14],[74.2,10],[74.4,13],[74.6,10],[74.8,14],[75.0,11],[75.2,14],[75.4,11],[75.6,14],[75.8,10],[76.0,13],[76.2,10],[76.4,13],[76.6,10],[76.8,14],[77.0,11],[77.2,13],[77.4,10],[77.6,13],[77.8,10],[78.0,13],[78.2,10],[78.4,14],[78.6,11],[78.8,13],[79.0,10],[79.2,13],[79.4,10],[79.6,12],[79.8,9],[80.0,13],[80.2,10],[80.4,12],[80.6,9],[80.8,13],[81.0,10],[81.2,12],[81.4,9],[81.6,12],[81.8,10],[82.0,13],[82.2,9],[82.4,12],[82.6,10],[82.8,13],[83.0,10],[83.2,12],[83.4,9],[83.6,13],[83.8,10],[84.0,12],[84.2,9],[84.4,12],[84.6,10],[84.8,13],[85.0,9],[85.2,12],[85.4,10],[85.6,12],[85.8,9],[86.0,12],[86.2,10],[86.4,12],[86.6,9],[86.8,12],[87.0,9],[87.2,12],[87.4,10],[87.6,12],[87.8,9],[88.0,12],[88.2,9],[88.4,12],[88.6,10],[88.8,12],[89.0,9],[89.2,12],[89.4,9],[89.6,11],[89.8,9],[90.0,11]];

const seriesNames = ["Dehydrogenated", "Hydrogenated", "After BM", "Sample Holder"];
const seriesColors = ["#00ff00", "#0000ff", "#ff0000", "#ff00ff"];
const traces = [dehydrogenated, hydrogenated, afterBM, sampleHolder];

const xTicks = [20, 30, 40, 50, 60, 70, 80, 90];
const yTicks = [343, 686, 1029, 1372];

// peak markers [2θ, counts]
const stars = [[21.44,1239],[28.5,1131],[21.56,995],[28.57,897],[22.12,669],[28.3,568],[21.25,266],[28.5,344]];
const diamonds = [[21.5,1194],[31.57,1392],[51.63,1269],[61.43,1120]];
const circlePlus = [[30.37,1388],[31.25,901],[44.71,812]];
const hearts = [[23.6,950],[30.38,962],[33.74,828],[38.45,854],[43.13,826],[50.69,850],[51.56,828],[62.69,804]];
const clubs = [[28.34,521],[54.92,505],[60.8,459]];
const pluses = [[31.52,670],[36.18,552],[40.29,489],[51.39,491],[60.94,511]];
const lih = [[43.15,871]];
const question = [[23.76,1389]];
// arrow from the "?" to the unidentified peak: shaft and (filled) head
const arrowShaft = [{x1: 24.18, y1: 1386, x2: 26.6, y2: 1410}];
const arrowHead = [[26.56, 1409.4]];

// curve labels [2θ of right end, counts at baseline]
const labelAt = [[89.72,981],[89.74,643],[89.3,428],[89.39,44]];

// legend
const legendSymbols = ["*", "+", "♣", "♥", "⊕", "♦", "ϖ"];
const legendNames = ["Sample Holder", "LiNH_2", "MgH_2", "Mg(NH)_2", "Mg_3N_2", "Li_2Mg(NH)_2", "LiH"];
const legendRows = [1407, 1367, 1309, 1251, 1191, 1134, 1067];
const legendX = 80.88;

const rows = traces.flatMap((t, i) => t.map(([x, y]) => ({x, y, name: seriesNames[i]})));
const labels = seriesNames.map((n, i) => ({n, x: labelAt[i][0], y: labelAt[i][1]}));
const px = d => d[0], py = d => d[1];

const FONT = "Liberation Sans, Arial, Helvetica, sans-serif";
const SYM = "DejaVu Sans, sans-serif";

const plot = Plot.plot({
  width: 2819, height: 1608,
  marginLeft: 91, marginRight: 39, marginTop: 25, marginBottom: 134,
  style: {fontFamily: FONT, background: "white", color: "black"},
  x: {domain: [15, 90]},
  y: {domain: [0, 1449]},
  color: {domain: seriesNames, range: seriesColors},
  marks: [
    Plot.line(rows, {x: "x", y: "y", z: "name", stroke: "name", strokeWidth: 5}),
    Plot.frame({stroke: "black", strokeWidth: 2.5}),
    Plot.axisX(xTicks, {tickSize: -28, tickFormat: () => "", label: null, strokeWidth: 2}),
    Plot.axisX(xTicks, {tickSize: 0, tickPadding: 18, fontSize: 48, label: null}),
    Plot.axisY(yTicks, {tickSize: -7, tickFormat: () => "", label: null, strokeWidth: 2}),
    Plot.text(["Position (2θ)"], {text: d => d, frameAnchor: "bottom", dy: 108, lineAnchor: "bottom", fontSize: 60}),
    Plot.text(["Counts"], {text: d => d, frameAnchor: "left", textAnchor: "middle", rotate: -90, dx: -51, fontSize: 60}),
    Plot.text(labels, {x: "x", y: "y", text: "n", fill: "n", textAnchor: "end", lineAnchor: "bottom", fontSize: 41}),
    // markers
    Plot.text(stars, {x: px, y: py, text: () => "*", fontSize: 60, fontWeight: "bold", dy: 14}),
    Plot.text(diamonds, {x: px, y: py, text: () => "♦", fontSize: 62, fontFamily: SYM}),
    Plot.text(hearts, {x: px, y: py, text: () => "♥", fontSize: 66, fontFamily: SYM}),
    Plot.text(clubs, {x: px, y: py, text: () => "♣", fontSize: 66, fontFamily: SYM}),
    Plot.text(pluses, {x: px, y: py, text: () => "+", fontSize: 66, fontWeight: "bold"}),
    Plot.text(lih, {x: px, y: py, text: () => "ϖ", fontSize: 64, fontFamily: "DejaVu Serif, serif", fontWeight: "bold"}),
    Plot.text(question, {x: px, y: py, text: () => "?", fontSize: 74, fontWeight: "bold"}),
    Plot.dot(circlePlus, {x: px, y: py, r: 23, stroke: "black", strokeWidth: 4.5, fill: "white", fillOpacity: 0}),
    Plot.dot(circlePlus, {x: px, y: py, r: 14, symbol: "plus", stroke: "black", strokeWidth: 5}),
    Plot.link(arrowShaft, {x1: "x1", y1: "y1", x2: "x2", y2: "y2", stroke: "black", strokeWidth: 2.5}),
    Plot.dot(arrowHead, {x: px, y: py, symbol: "triangle", r: 9, fill: "black", stroke: "none", rotate: 75})
  ]
});

// legend with subscripts, positioned through the plot's scales
const sx = plot.scale("x"), sy = plot.scale("y");
const lg = d3.select(plot).append("g")
  .attr("font-family", FONT).attr("font-size", 42).attr("fill", "black").attr("text-anchor", "start");
legendNames.forEach((name, i) => {
  const t = lg.append("text").attr("text-anchor", "start")
    .attr("x", sx.apply(legendX)).attr("y", sy.apply(legendRows[i]));
  const sym = legendSymbols[i];
  const symFont = (sym === "*" || sym === "+") ? FONT : (sym === "ϖ" ? "DejaVu Serif, serif" : SYM);
  t.append("tspan").attr("font-family", symFont).text(sym);
  t.append("tspan").text("\u00a0");
  let down = false;
  name.split(/(_\d)/).filter(s => s.length).forEach(part => {
    if (part[0] === "_") {
      t.append("tspan").attr("font-size", 32).attr("dy", down ? 0 : 21).text(part.slice(1));
      down = true;
    } else {
      t.append("tspan").attr("dy", down ? -21 : 0).text(part);
      down = false;
    }
  });
});

document.getElementById("chart").appendChild(plot);
</script>
</body></html>
